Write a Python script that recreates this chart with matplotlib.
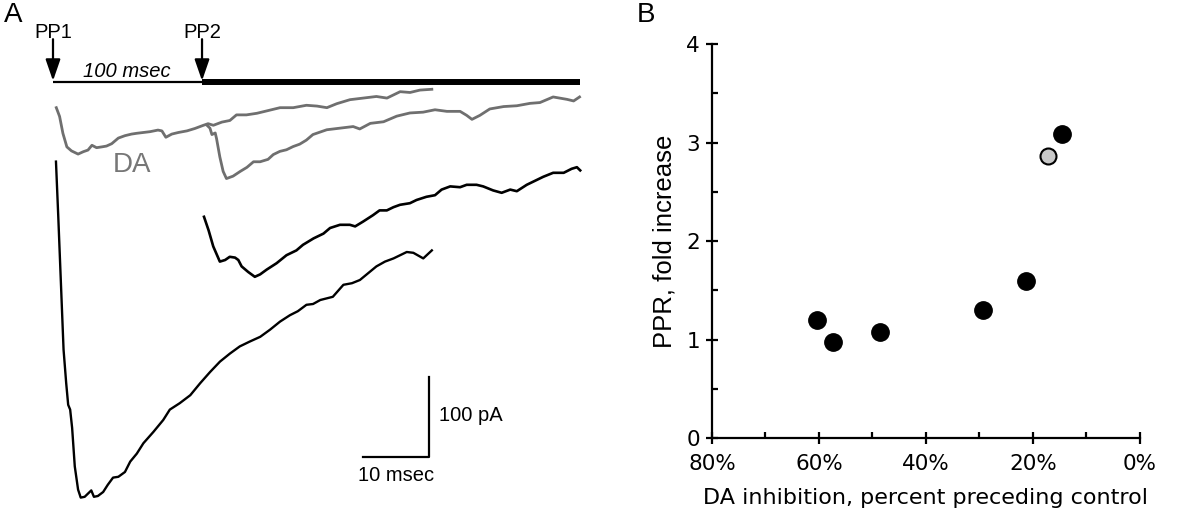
import numpy as np
import matplotlib
matplotlib.use("Agg")
import matplotlib.pyplot as plt

plt.rcParams['font.family'] = ['Liberation Sans', 'DejaVu Sans']

# ---- panel A: EPSC traces, (time after stimulus in ms, current in pA rel. to first sample)
gray_pp1 = np.array([
    (0.5, 0), (1.0, -11), (1.5, -32), (2.1, -49), (2.8, -54), (3.8, -58), (4.6, -55),
    (5.3, -53), (5.9, -47), (6.6, -50), (7.4, -49), (8.1, -48), (8.9, -45), (9.9, -38),
    (10.9, -35), (11.9, -33), (12.7, -32), (13.7, -31), (14.7, -30), (15.9, -28),
    (16.5, -29), (17.1, -37), (18.0, -33), (19.0, -31), (20.3, -29), (21.5, -26),
    (22.8, -22), (23.5, -20), (24.3, -22), (25.6, -18), (26.8, -16), (27.8, -9),
    (29.3, -9), (30.9, -7), (32.4, -4), (34.4, 0), (36.4, 0), (38.4, 3), (40.0, 2),
    (41.5, 0), (43.0, 5), (45.0, 10), (47.0, 12), (49.0, 14), (50.6, 12), (52.6, 20),
    (54.1, 19), (55.6, 22), (57.4, 23)])

gray_pp2 = np.array([
    (0.7, 0), (1.2, -4), (1.5, -12), (2.0, -10), (2.2, -17), (2.7, -40), (3.2, -58),
    (3.7, -67), (4.7, -64), (5.8, -58), (6.8, -53), (7.8, -46), (8.8, -46), (10.0, -43),
    (10.8, -37), (11.8, -33), (12.8, -31), (13.8, -27), (14.8, -24), (15.8, -19),
    (16.8, -12), (18.9, -6), (20.9, -4), (22.9, -2), (23.9, -5), (25.5, 2), (27.5, 4),
    (29.5, 11), (31.5, 15), (33.5, 16), (35.3, 19), (37.1, 17), (39.1, 17), (40.1, 12),
    (40.9, 7), (42.1, 12), (43.6, 20), (45.7, 23), (47.7, 24), (49.7, 27), (51.2, 28),
    (53.2, 35), (55.3, 32), (56.3, 30), (57.2, 35)])

black_pp1 = np.array([
    (0.45, 0), (0.8, -69), (1.2, -152), (1.6, -235), (2.0, -277), (2.3, -304),
    (2.6, -310), (2.9, -333), (3.3, -381), (3.8, -410), (4.2, -420), (4.8, -419),
    (5.3, -415), (5.8, -411), (6.2, -419), (6.8, -418), (7.6, -413), (8.3, -404),
    (9.1, -395), (9.9, -394), (10.9, -388), (11.7, -375), (12.7, -365), (13.7, -352),
    (15.2, -338), (16.7, -323), (17.7, -310), (19.2, -302), (20.8, -292), (22.3, -277),
    (23.8, -263), (25.3, -250), (26.8, -240), (28.3, -231), (29.8, -225), (31.4, -219),
    (32.9, -210), (34.4, -200), (35.9, -192), (37.1, -187), (38.4, -179), (39.4, -178),
    (40.5, -173), (42.4, -169), (44.0, -154), (45.3, -152), (46.5, -148), (49.0, -131),
    (50.3, -125), (51.6, -121), (53.6, -113), (54.6, -114), (56.1, -121), (57.4, -111)])

black_pp2 = np.array([
    (0.3, 0), (1.0, -17), (1.7, -37), (2.7, -56), (3.5, -54), (4.2, -50), (5.0, -51),
    (5.5, -54), (6.0, -62), (7.0, -69), (8.0, -75), (8.8, -72), (9.8, -66), (11.3, -58),
    (12.8, -48), (14.3, -42), (15.3, -35), (16.9, -27), (18.4, -21), (19.4, -14),
    (20.9, -10), (22.4, -10), (23.2, -12), (24.4, -6), (25.9, 2), (26.9, 8), (28.0, 8),
    (29.0, 12), (30.0, 15), (31.5, 17), (32.5, 21), (34.0, 25), (35.3, 27), (36.3, 34),
    (37.6, 38), (39.1, 37), (40.1, 40), (41.6, 40), (42.6, 38), (44.1, 33), (45.4, 30),
    (46.7, 34), (47.7, 32), (49.2, 40), (50.2, 44), (51.7, 50), (53.2, 55), (54.8, 55),
    (56.0, 60), (56.8, 62), (57.3, 58)])

scale_ms = 10
scale_pA = 100

# ---- panel B: PPR vs DA inhibition
inhib_black = [60.4, 57.4, 48.6, 29.3, 21.3, 14.6]
ppr_black = [1.20, 0.97, 1.08, 1.30, 1.59, 3.09]
inhib_gray = [17.2]
ppr_gray = [2.86]

fig = plt.figure(figsize=(12, 5.12), dpi=100)

# panel A drawn on a schematic ms / pA canvas (PP2 sweep shifted left for display)
axA = fig.add_axes([0, 0, 0.5, 1])
axA.set_xlim(-8.03, 82.88)
axA.set_ylim(-515, 125)
axA.axis('off')

pp2_shift = 22.58
grey = '#6f6f6f'
axA.plot(gray_pp1[:, 0], gray_pp1[:, 1] - 9.6, color=grey, lw=2.0)
axA.plot(gray_pp2[:, 0] + pp2_shift, gray_pp2[:, 1] - 31.2, color=grey, lw=2.0)
axA.plot(black_pp1[:, 0], black_pp1[:, 1] - 77, color='k', lw=1.7)
axA.plot(black_pp2[:, 0] + pp2_shift, black_pp2[:, 1] - 146, color='k', lw=1.9)

# stimulus bar and arrows
axA.plot([0, pp2_shift], [22, 22], color='k', lw=1.6, solid_capstyle='butt')
axA.plot([pp2_shift, 79.8], [22, 22], color='k', lw=4.3, solid_capstyle='butt')
for xs, lab in [(0, 'PP1'), (pp2_shift, 'PP2')]:
    axA.annotate('', xy=(xs, 24), xytext=(xs, 76),
                 arrowprops=dict(arrowstyle='-|>,head_width=0.45,head_length=1.3',
                                 color='k', lw=1.6, shrinkA=0, shrinkB=0))
    axA.text(xs, 78, lab, ha='center', va='baseline', fontsize=14.5)
axA.text(11.2, 28.5, '100 msec', ha='center', va='baseline', fontsize=14.5, style='italic')
axA.text(12.0, -90, 'DA', ha='center', va='baseline', fontsize=20, color='#777777')

# scale bar
cx, cy = 56.97, -446
axA.plot([cx - scale_ms, cx, cx], [cy, cy, cy + scale_pA], color='k', lw=1.6)
axA.text(cx + 1.5, cy + 45, '%d pA' % scale_pA, ha='left', va='baseline', fontsize=14.5)
axA.text(cx - scale_ms / 2, cy - 30, '%d msec' % scale_ms, ha='center', va='baseline', fontsize=14.5)

fig.text(0.003, 0.957, 'A', fontsize=20, ha='left', va='baseline')
fig.text(0.531, 0.957, 'B', fontsize=20, ha='left', va='baseline')

# panel B
axB = fig.add_axes([0.5933, 0.1445, 0.3567, 0.7695])
axB.plot(inhib_black, ppr_black, 'o', ms=12.5, color='k', clip_on=False)
axB.plot(inhib_gray, ppr_gray, 'o', ms=11.5, mfc='#c8c8c8', mec='k', mew=1.5, clip_on=False)
axB.set_xlim(80, 0)
axB.set_ylim(0, 4)
axB.set_xticks([80, 60, 40, 20, 0])
axB.set_xticklabels(['%d%%' % v for v in [80, 60, 40, 20, 0]])
axB.set_xticks([70, 50, 30, 10], minor=True)
axB.set_yticks([0, 1, 2, 3, 4])
axB.set_yticks([0.5, 1.5, 2.5, 3.5], minor=True)
for s in ['top', 'right']:
    axB.spines[s].set_visible(False)
for s in ['left', 'bottom']:
    axB.spines[s].set_linewidth(1.6)
axB.tick_params(which='major', direction='inout', length=9, width=1.6, labelsize=15.5)
axB.tick_params(axis='x', which='major', pad=7)
axB.tick_params(axis='y', which='major', pad=4)
axB.tick_params(which='minor', direction='in', length=4.5, width=1.6)
for lab in axB.get_xticklabels() + axB.get_yticklabels():
    lab.set_family('DejaVu Sans')
axB.set_xlabel('DA inhibition, percent preceding control', fontsize=16,
               family='DejaVu Sans', labelpad=10)
axB.set_ylabel('PPR, fold increase', fontsize=18.5, labelpad=7)

fig.savefig('out.png', dpi=100)
